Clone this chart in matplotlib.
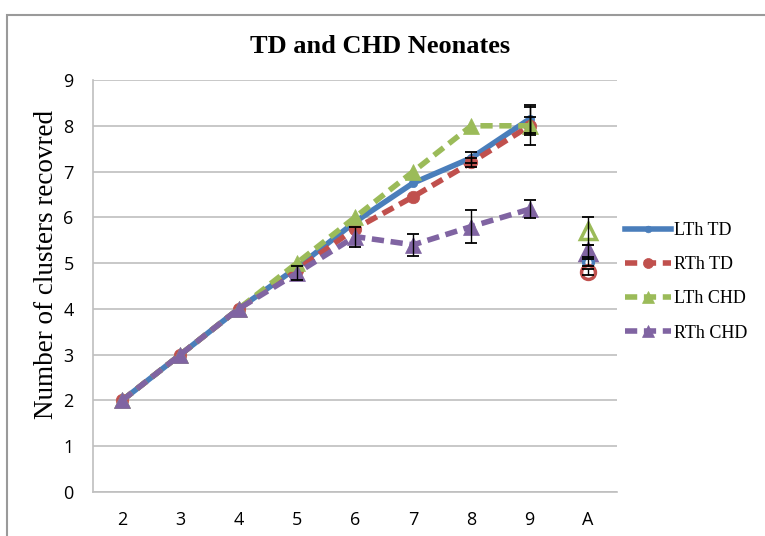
import matplotlib
matplotlib.use("Agg")
import matplotlib.pyplot as plt
from matplotlib.patches import Rectangle

nan = float("nan")

# x categories (cluster counts, then "A")
categories = ["2", "3", "4", "5", "6", "7", "8", "9", "A"]

# values for 2..9, then separate point at A
lth_td = [2, 3, 4, 4.9, 5.9, 6.75, 7.3, 8.15]
rth_td = [2, 3, 4, 4.85, 5.75, 6.45, 7.2, 8.0]
lth_chd = [2, 3, 4, 5.0, 6.0, 7.0, 8.0, 8.0]
rth_chd = [2, 3, 4, 4.78, 5.58, 5.4, 5.8, 6.18]

lth_td_err = [nan, nan, nan, nan, nan, nan, 0.12, 0.3]
rth_td_err = [nan, nan, nan, nan, nan, nan, 0.1, 0.2]
lth_chd_err = [nan, nan, nan, nan, nan, nan, nan, 0.42]
rth_chd_err = [nan, nan, nan, 0.15, 0.22, 0.24, 0.37, 0.2]

a_vals = [5.03, 4.8, 5.7, 5.25]
a_errs = [0.1, 0.07, 0.3, 0.15]

labels = ["LTh TD", "RTh TD", "LTh CHD", "RTh CHD"]
colors = ["#4A7EBB", "#C0504D", "#9BBB59", "#8064A2"]

serif = ["Liberation Serif", "DejaVu Serif"]

fig = plt.figure(figsize=(7.65, 5.36), dpi=100)
ax = fig.add_axes([0.1216, 0.0821, 0.6849, 0.7686])

# outer chart frame
fig.patches.append(Rectangle((0.009, -0.01), 1.2, 0.982, transform=fig.transFigure,
                             fill=False, edgecolor="#9a9a9a", lw=1.5))

x = list(range(8))
series = [lth_td, rth_td, lth_chd, rth_chd]
errs = [lth_td_err, rth_td_err, lth_chd_err, rth_chd_err]
styles = ["-", (0, (2.2, 1.2)), (0, (2.2, 1.2)), (0, (2.2, 1.2))]
markers = ["o", "o", "^", "^"]
msizes = [6, 9, 11, 11]

handles = []
for i in range(4):
    ax.errorbar(x, series[i], yerr=errs[i], fmt="none", ecolor="black",
                elinewidth=1.0, capsize=4, capthick=1.3, zorder=5)
    h, = ax.plot(x, series[i], linestyle=styles[i], color=colors[i], lw=4,
                 marker=markers[i], markersize=msizes[i], markerfacecolor=colors[i],
                 markeredgecolor=colors[i], markeredgewidth=0.5, zorder=3 + i * 0.1,
                 label=labels[i])
    handles.append(h)

# separate points at "A"
for i in [2, 3, 0, 1]:
    ax.errorbar([8], [a_vals[i]], yerr=[a_errs[i]], fmt="none", ecolor="black",
                elinewidth=1.0, capsize=4, capthick=1.3, zorder=5)
    face = colors[i] if i == 3 else "white"
    ax.plot([8], [a_vals[i]], linestyle="none", marker=markers[i],
            markersize=msizes[i] + 1, markerfacecolor=face, markeredgecolor=colors[i],
            markeredgewidth=2.5, zorder=4)

ax.set_xlim(-0.5, 8.5)
ax.set_ylim(0, 9)
ax.set_xticks(range(9))
ax.set_xticklabels(categories)
ax.set_yticks(range(10))
ax.yaxis.grid(True, color="#BFBFBF", lw=1.2)
ax.set_axisbelow(True)
for s in ["top", "right"]:
    ax.spines[s].set_visible(False)
for s in ["left", "bottom"]:
    ax.spines[s].set_color("#BFBFBF")
    ax.spines[s].set_linewidth(1.2)
ax.tick_params(length=0, labelsize=13, pad=14)
for t in ax.get_xticklabels() + ax.get_yticklabels():
    t.set_fontfamily("Open Sans")

ax.set_ylabel("Number of clusters recovred", fontsize=19.5, family=serif)
ax.yaxis.set_label_coords(-0.064, 0.553)
fig.text(0.497, 0.913, "TD and CHD Neonates", ha="center", va="center",
         fontsize=19, fontweight="bold", family=serif)

ax.legend(handles=handles, loc="center left", bbox_to_anchor=(0.985, 0.51),
          frameon=False, prop={"family": serif, "size": 13},
          handlelength=2.5, labelspacing=0.95, handletextpad=0.2, markerscale=0.8)

fig.savefig("out.png", dpi=100)
